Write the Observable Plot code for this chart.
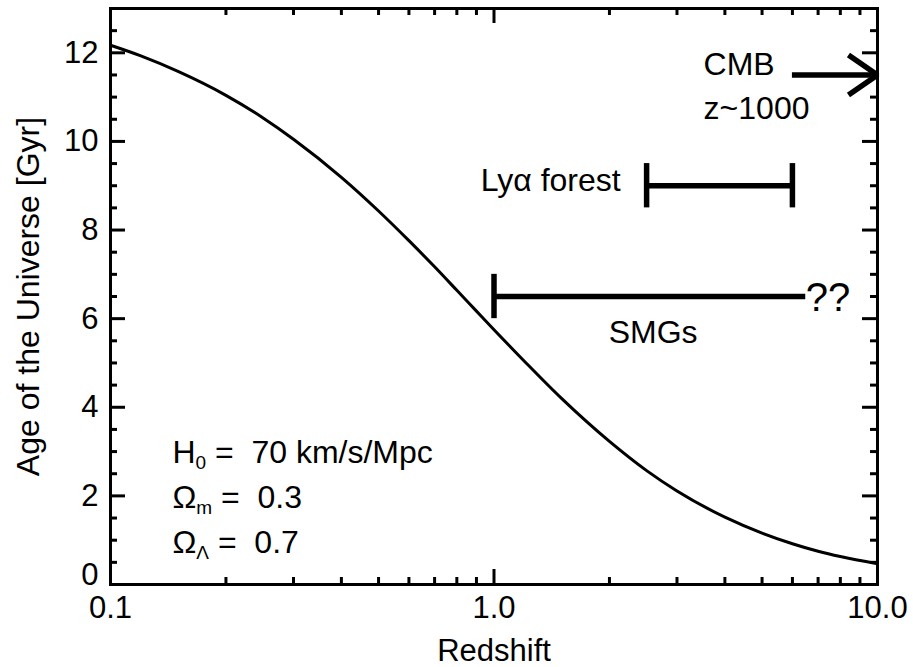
<!DOCTYPE html>
<html>
<head>
<meta charset="utf-8">
<script src="https://cdn.jsdelivr.net/npm/d3@7"></script>
<script src="https://cdn.jsdelivr.net/npm/@observablehq/plot@0.6"></script>
<style>
  body { margin: 0; background: #fff; }
  svg { display: block; }
</style>
</head>
<body>
<div id="chart"></div>
<script>
// Age of the Universe as a function of redshift (flat ΛCDM, H0 = 70, Ωm = 0.3)
const redshift = [0.1, 0.12, 0.15, 0.2, 0.25, 0.3, 0.4, 0.5, 0.6, 0.7, 0.8, 0.9, 1.0, 1.2, 1.5, 2, 2.5, 3, 4, 5, 6, 7, 8, 10];
const ageGyr   = [12.17, 11.93, 11.58, 11.04, 10.53, 10.05, 9.19, 8.43, 7.76, 7.17, 6.64, 6.17, 5.75, 5.04, 4.20, 3.23, 2.57, 2.11, 1.52, 1.16, 0.92, 0.75, 0.63, 0.47];

// Redshift ranges probed by different populations
const lyaRange = [2.5, 6];      // Lyα forest
const lyaAge = 9;
const smgRange = [1, 6.5];      // submillimetre galaxies
const smgAge = 6.5;
const capHalf = 0.5;            // half-height of the range end caps (Gyr)
const cmbArrow = {from: 6, to: 10, age: 11.5, wingZ: 8.4, wingHalf: 0.45};

// Cosmological parameters listed in the lower left
const params = [
  {sym: "H", sub: "0", rest: " =  70 km/s/Mpc", age: 2.75},
  {sym: "Ω", sub: "m", rest: " =  0.3", age: 1.72},
  {sym: "Ω", sub: "Λ", rest: " =  0.7", age: 0.70}
];
const paramZ = 0.145;

// Tick positions
const xMajor = [0.1, 1, 10];
const xMinor = [0.2, 0.3, 0.4, 0.5, 0.6, 0.7, 0.8, 0.9, 2, 3, 4, 5, 6, 7, 8, 9];
const yMajor = [0, 2, 4, 6, 8, 10, 12];
const yMinor = [0.5, 1, 1.5, 2.5, 3, 3.5, 4.5, 5, 5.5, 6.5, 7, 7.5, 8.5, 9, 9.5, 10.5, 11, 11.5, 12.5];

const curve = redshift.map((z, i) => ({z, age: ageGyr[i]}));

const W = 913, H = 667;
const mL = 110, mR = 36, mT = 8, mB = 83;
const innerW = W - mL - mR, innerH = H - mT - mB;
const majorLen = 15, minorLen = 7;
const font = "Liberation Sans, Arial, Helvetica, sans-serif";
const annotSize = 32, subSize = 19;

// measure glyph advances so the subscripts sit in the text flow
const ctx = document.createElement("canvas").getContext("2d");
const measure = (s, size) => { ctx.font = `${size}px ${font}`; return ctx.measureText(s).width; };

const paramMarks = params.flatMap(p => {
  const w1 = measure(p.sym, annotSize);
  const w2 = measure(p.sub, subSize);
  const common = {x: paramZ, y: p.age, textAnchor: "start", lineAnchor: "bottom", fill: "black"};
  return [
    Plot.text([p.sym], {...common, fontSize: annotSize}),
    Plot.text([p.sub], {...common, fontSize: subSize, dx: w1, dy: 6}),
    Plot.text([p.rest], {...common, fontSize: annotSize, dx: w1 + w2})
  ];
});

const tickStyle = {stroke: "black", strokeWidth: 3};

const chart = Plot.plot({
  width: W,
  height: H,
  marginLeft: mL,
  marginRight: mR,
  marginTop: mT,
  marginBottom: mB,
  style: {fontFamily: font, background: "white", color: "black", overflow: "visible"},
  x: {type: "log", domain: [0.1, 10], axis: null},
  y: {domain: [0, 13], axis: null},
  marks: [
    // inward ticks on all four sides
    Plot.tickX(xMajor, {x: d => d, insetTop: innerH - majorLen, ...tickStyle}),
    Plot.tickX(xMinor, {x: d => d, insetTop: innerH - minorLen, ...tickStyle}),
    Plot.tickX(xMajor, {x: d => d, insetBottom: innerH - majorLen, ...tickStyle}),
    Plot.tickX(xMinor, {x: d => d, insetBottom: innerH - minorLen, ...tickStyle}),
    Plot.tickY(yMajor, {y: d => d, insetRight: innerW - majorLen, ...tickStyle}),
    Plot.tickY(yMinor, {y: d => d, insetRight: innerW - minorLen, ...tickStyle}),
    Plot.tickY(yMajor, {y: d => d, insetLeft: innerW - majorLen, ...tickStyle}),
    Plot.tickY(yMinor, {y: d => d, insetLeft: innerW - minorLen, ...tickStyle}),
    Plot.frame({stroke: "black", strokeWidth: 3}),

    // tick labels
    Plot.text(xMajor, {x: d => d, frameAnchor: "bottom", dy: 33, lineAnchor: "bottom", textAnchor: "middle",
      text: d => d3.format(".1f")(d), fontSize: 31, fill: "black"}),
    Plot.text(yMajor.filter(d => d > 0), {y: d => d, frameAnchor: "left", dx: -12, textAnchor: "end",
      lineAnchor: "middle", text: d => String(d), fontSize: 31, fill: "black"}),
    Plot.text(yMajor.filter(d => d === 0), {y: d => d, frameAnchor: "left", dx: -12, textAnchor: "end",
      lineAnchor: "bottom", text: d => String(d), fontSize: 31, fill: "black"}),

    // axis titles
    Plot.text(["Redshift"], {frameAnchor: "bottom", dy: 76, lineAnchor: "bottom", textAnchor: "middle",
      fontSize: 31, fill: "black"}),
    Plot.text(["Age of the Universe [Gyr]"], {frameAnchor: "left", dx: -82, rotate: -90,
      textAnchor: "middle", lineAnchor: "middle", fontSize: 32, fill: "black"}),

    // age–redshift relation
    Plot.line(curve, {x: "z", y: "age", curve: "monotone-x", stroke: "black", strokeWidth: 3}),

    // Lyα forest range
    Plot.ruleY([lyaAge], {x1: lyaRange[0], x2: lyaRange[1], stroke: "black", strokeWidth: 5.5}),
    Plot.ruleX(lyaRange, {x: d => d, y1: lyaAge - capHalf, y2: lyaAge + capHalf, stroke: "black", strokeWidth: 5.5}),
    Plot.text(["Lyα forest"], {x: 2.14, y: 8.87, textAnchor: "end", lineAnchor: "bottom", fontSize: annotSize, fill: "black"}),

    // SMG range, open-ended at high redshift
    Plot.ruleY([smgAge], {x1: smgRange[0], x2: smgRange[1], stroke: "black", strokeWidth: 5.5}),
    Plot.ruleX([smgRange[0]], {x: d => d, y1: smgAge - capHalf, y2: smgAge + capHalf, stroke: "black", strokeWidth: 5.5}),
    Plot.text(["??"], {x: smgRange[1], y: 6.18, textAnchor: "start", lineAnchor: "bottom", fontSize: 40, fill: "black"}),
    Plot.text(["SMGs"], {x: 2.6, y: 5.46, textAnchor: "middle", lineAnchor: "bottom", fontSize: annotSize, fill: "black"}),

    // CMB arrow pointing off the chart
    Plot.ruleY([cmbArrow.age], {x1: cmbArrow.from, x2: cmbArrow.to, stroke: "black", strokeWidth: 5.5}),
    Plot.line([
      {z: cmbArrow.wingZ, age: cmbArrow.age + cmbArrow.wingHalf},
      {z: cmbArrow.to, age: cmbArrow.age},
      {z: cmbArrow.wingZ, age: cmbArrow.age - cmbArrow.wingHalf}
    ], {x: "z", y: "age", stroke: "black", strokeWidth: 5.5, strokeLinejoin: "miter", strokeLinecap: "butt"}),
    Plot.text(["CMB"], {x: 3.52, y: 11.5, textAnchor: "start", lineAnchor: "bottom", fontSize: annotSize, fill: "black"}),
    Plot.text(["z~1000"], {x: 3.52, y: 10.5, textAnchor: "start", lineAnchor: "bottom", fontSize: annotSize, fill: "black"}),

    // cosmological parameters
    ...paramMarks
  ]
});

document.getElementById("chart").appendChild(chart);
</script>
</body>
</html>
